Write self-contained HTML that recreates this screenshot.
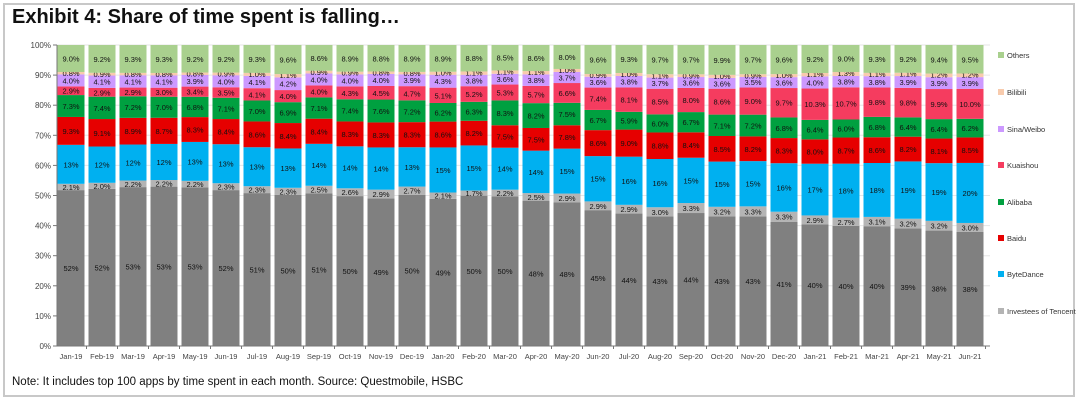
<!DOCTYPE html>
<html><head><meta charset="utf-8"><style>
body{margin:0;background:#fff;}
#wrap{position:relative;width:1080px;height:402px;overflow:hidden;font-family:"Liberation Sans",Arial,sans-serif;}
#frame{position:absolute;left:3px;top:3px;width:1072px;height:394px;border:2px solid #c8c8c8;box-sizing:border-box;}
#title{position:absolute;left:12px;top:6px;font-size:20px;font-weight:bold;color:#111;}
#note{position:absolute;left:12px;top:376px;font-size:11.5px;color:#111;}
</style></head><body>
<div id="wrap">
<div id="frame"></div>
<div id="title">Exhibit 4: Share of time spent is falling…</div>
<svg id="chart" width="1080" height="402" style="position:absolute;left:0;top:0"></svg>
<div id="note">Note: It includes top 100 apps by time spent in each month. Source: Questmobile, HSBC</div>
</div>
<script>
const months=["Jan-19","Feb-19","Mar-19","Apr-19","May-19","Jun-19","Jul-19","Aug-19","Sep-19","Oct-19","Nov-19","Dec-19","Jan-20","Feb-20","Mar-20","Apr-20","May-20","Jun-20","Jul-20","Aug-20","Sep-20","Oct-20","Nov-20","Dec-20","Jan-21","Feb-21","Mar-21","Apr-21","May-21","Jun-21"];
const tencent=[52,52,53,53,53,52,51,50,51,50,49,50,49,50,50,48,48,45,44,43,44,43,43,41,40,40,40,39,38,38];
const investees=[2.1,2.0,2.2,2.2,2.2,2.3,2.3,2.3,2.5,2.6,2.9,2.7,2.1,1.7,2.2,2.5,2.9,2.9,2.9,3.0,3.3,3.2,3.3,3.3,2.9,2.7,3.1,3.2,3.2,3.0];
const bytedance=[13,12,12,12,13,13,13,13,14,14,14,13,15,15,14,14,15,15,16,16,15,15,15,16,17,18,18,19,19,20];
const baidu=[9.3,9.1,8.9,8.7,8.3,8.4,8.6,8.4,8.4,8.3,8.3,8.3,8.6,8.2,7.5,7.5,7.8,8.6,9.0,8.8,8.4,8.5,8.2,8.3,8.0,8.7,8.6,8.2,8.1,8.5];
const alibaba=[7.3,7.4,7.2,7.0,6.8,7.1,7.0,6.9,7.1,7.4,7.6,7.2,6.2,6.3,8.3,8.2,7.5,6.7,5.9,6.0,6.7,7.1,7.2,6.8,6.4,6.0,6.8,6.4,6.4,6.2];
const kuaishou=[2.9,2.9,2.9,3.0,3.4,3.5,4.1,4.0,4.0,4.3,4.5,4.7,5.1,5.2,5.3,5.7,6.6,7.4,8.1,8.5,8.0,8.6,9.0,9.7,10.3,10.7,9.8,9.8,9.9,10.0];
const sina=[4.0,4.1,4.1,4.1,3.9,4.0,4.1,4.2,4.0,4.0,4.0,3.9,4.3,3.8,3.6,3.8,3.7,3.6,3.8,3.7,3.6,3.6,3.5,3.6,4.0,3.8,3.8,3.9,3.9,3.9];
const bilibili=[0.8,0.9,0.8,0.8,0.8,0.9,1.0,1.1,0.9,0.9,0.8,0.8,1.0,1.1,1.1,1.1,1.0,0.9,1.0,1.1,0.9,1.0,0.9,1.0,1.1,1.3,1.1,1.1,1.2,1.2];
const others=[9.0,9.2,9.3,9.3,9.2,9.2,9.3,9.6,8.6,8.9,8.8,8.9,8.9,8.8,8.5,8.6,8.0,9.6,9.3,9.7,9.7,9.9,9.7,9.6,9.2,9.0,9.3,9.2,9.4,9.5];
const seriesNames=["Tencent","Investees of Tencent","ByteDance","Baidu","Alibaba","Kuaishou","Sina/Weibo","Bilibili","Others"];
const yTicks=[0,10,20,30,40,50,60,70,80,90,100];

const series=[tencent,investees,bytedance,baidu,alibaba,kuaishou,sina,bilibili,others];
const intFmt=[true,false,true,false,false,false,false,false,false];
const colors=["#808080","#b4b4b4","#00b0f0","#e60000","#00a040","#f53c5f","#cc99ff","#f8cbad","#a9d08e"];
const NS="http://www.w3.org/2000/svg";
const svg=document.getElementById('chart');
const X0=57,Y0=346,Y1=45,STEP=31,BW=27;
const y=v=>Y0-(Y0-Y1)*v/100;
const xc=i=>X0+14+i*STEP;
function mk(t,a){const e=document.createElementNS(NS,t);for(const k in a)e.setAttribute(k,a[k]);svg.appendChild(e);return e;}
yTicks.forEach(t=>{
  const g=mk('line',{x1:X0,x2:990,y1:y(t),y2:y(t),stroke:'#e6e6e6','stroke-width':1});
  
  
  const tk=mk('line',{x1:X0-4,x2:X0,y1:y(t),y2:y(t),stroke:'#777'});
  
  
  const l=mk('text',{x:X0-6,y:y(t)+3,'font-size':8,'text-anchor':'end',fill:'#444'});
  l.textContent=t+'%';
  
  
});
months.forEach((m,i)=>{
  const tot=series.reduce((s,a)=>s+a[i],0);
  let acc=0;
  series.forEach((arr,k)=>{
    const v=arr[i]*100/tot;
    const yt=y(acc+v),yb=y(acc);
    const r=mk('rect',{x:xc(i)-BW/2,y:yt,width:BW,height:yb-yt,fill:colors[k]});
    
    
    const txt=intFmt[k]?Math.round(arr[i])+'%':arr[i].toFixed(1)+'%';
    const ty=arr[i]<1.5?yt+4:(yt+yb)/2+3;
    const t=mk('text',{x:xc(i),y:ty,'font-size':7.5,'text-anchor':'middle',fill:'#111'});
    t.textContent=txt;
    
    
    acc+=v;
  });
  const tk=mk('line',{x1:xc(i)+STEP/2,x2:xc(i)+STEP/2,y1:Y0,y2:Y0+3,stroke:'#777'});
  
  
  const l=mk('text',{x:xc(i),y:Y0+13,'font-size':7.5,'text-anchor':'middle',fill:'#444'});
  l.textContent=m;
  
  
});
const ax=mk('line',{x1:X0,x2:X0,y1:Y1,y2:Y0,stroke:'#777'});


const bx=mk('line',{x1:X0,x2:990,y1:Y0,y2:Y0,stroke:'#777'});


const legY=[348,312,275,239,203,166,130,93,56];
seriesNames.forEach((n,k)=>{
  if(k===0)return;
  const s=mk('rect',{x:998,y:legY[k]-4,width:6,height:6,fill:colors[k]});
  
  
  const t=mk('text',{x:1007,y:legY[k]+2,'font-size':7.5,fill:'#333'});
  t.textContent=n;
  
  
});
</script>
</body></html>
